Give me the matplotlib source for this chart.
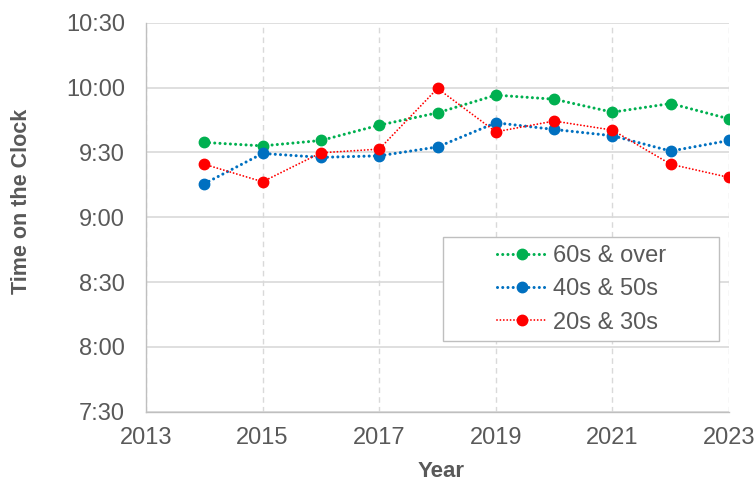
import matplotlib
matplotlib.use("Agg")
import matplotlib.pyplot as plt
from matplotlib.ticker import FuncFormatter, MultipleLocator
from matplotlib.patches import Rectangle

plt.rcParams['font.family'] = ['Liberation Sans', 'DejaVu Sans']

years = [2014, 2015, 2016, 2017, 2018, 2019, 2020, 2021, 2022, 2023]
# minutes since midnight
over60 = [574.6, 573.0, 575.5, 582.6, 588.3, 596.5, 594.6, 588.6, 592.6, 585.5]
age40_50 = [555.5, 569.5, 567.7, 568.4, 572.5, 583.7, 580.6, 577.7, 570.6, 575.5]
age20_30 = [564.5, 556.4, 569.8, 571.5, 599.6, 579.5, 584.5, 580.3, 564.5, 558.4]
series_names = ["60s & over", "40s & 50s", "20s & 30s"]
xticks = [2013, 2015, 2017, 2019, 2021, 2023]

TXT = '#595959'
GRID = '#D9D9D9'

W, H = 755, 482
fig = plt.figure(figsize=(W/100, H/100), dpi=100)
L, R, T, B = 146, 729, 22.7, 411.7
ax = fig.add_axes([L/W, 1-B/H, (R-L)/W, (B-T)/H])

ax.plot(years, over60, color='#00B050', linestyle=(0, (0.01, 1.7)), linewidth=2.2,
        dash_capstyle='round', marker='o', markersize=7.5, label=series_names[0], zorder=3)
ax.plot(years, age40_50, color='#0070C0', linestyle=(0, (0.01, 1.7)), linewidth=2.2,
        dash_capstyle='round', marker='o', markersize=7.5, label=series_names[1], zorder=3)
ax.plot(years, age20_30, color='#FF0000', linestyle=(0, (0.01, 1.8)), linewidth=1.35,
        dash_capstyle='round', marker='o', markersize=7.5, label=series_names[2], zorder=3)

ax.set_xlim(2013, 2023)
ax.set_ylim(450, 630)
ax.set_xticks(xticks)
ax.set_xticklabels([str(x) for x in xticks])
ax.yaxis.set_major_locator(MultipleLocator(30))
ax.yaxis.set_major_formatter(FuncFormatter(lambda v, p: f"{int(v//60)}:{int(v%60):02d}"))

ax.grid(axis='y', color=GRID, linewidth=1.2, linestyle='-')
ax.grid(axis='x', color=GRID, linewidth=1.0, linestyle=(0, (4, 3)))
ax.set_axisbelow(True)
for s in ['top', 'right']:
    ax.spines[s].set_visible(False)
for s in ['left', 'bottom']:
    ax.spines[s].set_color('#BFBFBF')
    ax.spines[s].set_linewidth(1.0)

ax.tick_params(axis='both', length=0, labelsize=17, labelcolor=TXT)
ax.tick_params(axis='y', pad=15)
ax.tick_params(axis='x', pad=11)

ax.set_ylabel("Time on the Clock", fontsize=15.5, fontweight='bold', color=TXT, va='center')
ax.yaxis.set_label_coords((22 - L)/(R - L), 1 - (201 - T)/(B - T))
ax.set_xlabel("Year", fontsize=16, fontweight='bold', color=TXT, va='center')
ax.xaxis.set_label_coords((441 - L)/(R - L), -(471.7 - B)/(B - T))

# legend frame (manual, Excel-like padding)
bx0, bx1, by0, by1 = 443, 719, 237.3, 341
ax.add_patch(Rectangle(((bx0 - L)/(R - L), 1 - (by1 - T)/(B - T)),
                       (bx1 - bx0)/(R - L), (by1 - by0)/(B - T),
                       transform=ax.transAxes, facecolor='white', edgecolor='#BFBFBF',
                       linewidth=1.0, zorder=4))
leg = ax.legend(loc='center', bbox_to_anchor=((581.5 - L)/(R - L), 1 - (289.3 - T)/(B - T)),
                fontsize=17, frameon=False,
                handlelength=2.1, handletextpad=0.25, labelspacing=0.48,
                borderpad=0, borderaxespad=0)
leg.set_zorder(5)
for t in leg.get_texts():
    t.set_color(TXT)

fig.savefig("out.png", dpi=100)
